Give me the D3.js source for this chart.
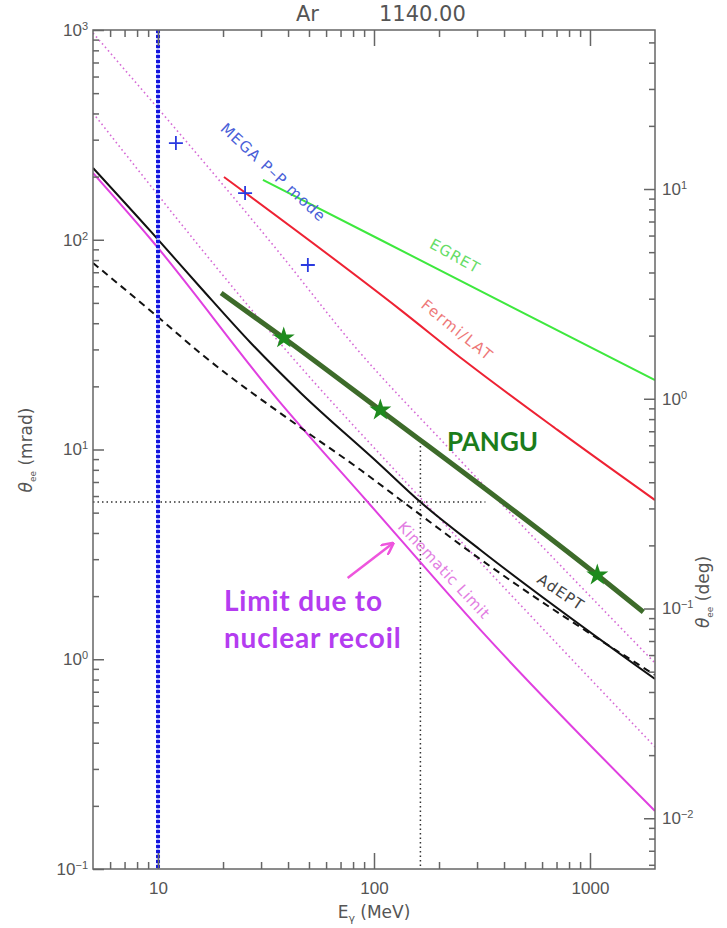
<!DOCTYPE html>
<html>
<head>
<meta charset="utf-8">
<script src="https://cdn.jsdelivr.net/npm/d3@7"></script>
<style>
  body { margin: 0; background: #fff; }
  svg { display: block; font-family: "DejaVu Sans", sans-serif; }
</style>
</head>
<body>
<svg id="chart" width="727" height="928"></svg>
<script>
// photon energy (MeV) vs angle (mrad)
var kinE = [5, 9.3, 36, 93.5, 311, 2000];
var kinTheta = [208, 100, 17.2, 5.62, 1.38, 0.189];

var adeptE = [5, 9.3, 15.8, 26.9, 45.8, 107, 164, 311, 2000];
var adeptTheta = [220, 109, 58.9, 32.2, 18.6, 8.44, 5.62, 3.32, 0.805];

var adeptDashE = [5, 10, 16.3, 45.8, 86.8, 153, 301, 2000];
var adeptDashTheta = [77.5, 42.8, 27.9, 12.7, 7.98, 5.15, 3.07, 0.841];

var egretE = [30.6, 107, 2000];
var egretTheta = [193, 100, 21.4];

var fermiE = [20.2, 133, 260, 707, 2000];
var fermiTheta = [199, 46.2, 26.7, 12.4, 5.74];

var panguE = [19.6, 38.2, 107, 1081, 1766];
var panguTheta = [55.7, 34.0, 15.4, 2.52, 1.68];
var starE = [38.2, 107, 1081];
var starTheta = [34.0, 15.4, 2.52];

var megaE = [12.1, 25.3, 49.4];
var megaTheta = [289, 167, 75.8];

var dotAE = [5, 35.9, 84.1, 226, 2000];
var dotATheta = [968, 88.4, 29.8, 9.95, 0.959];
var dotBE = [5, 45.8, 143, 2000];
var dotBTheta = [402, 24.7, 6.85, 0.382];

// crosshair at 164 MeV / 5.62 mrad
var cutE = 164, cutTheta = 5.62, cutEmax = 328, cutThetaTop = 10.4;
var vlineE = 10;

var xTicks = [10, 100, 1000];
var xTickLabels = ["10", "100", "1000"];
var yTicks = [0.1, 1, 10, 100, 1000];
var yExp = ["\u22121", "0", "1", "2", "3"];
var degTicks = [0.01, 0.1, 1, 10];
var degExp = ["\u22122", "\u22121", "0", "1"];
var mradPerDeg = 17.4533;

var L = 93, R = 655, T = 30, B = 869;

var svg = d3.select("#chart");
svg.append("rect").attr("width", 727).attr("height", 928).attr("fill", "#fff");

var x = d3.scaleLog().domain([5, 2000]).range([L, R]);
var y = d3.scaleLog().domain([0.1, 1000]).range([B, T]);
var yDeg = d3.scaleLog().domain([0.1 / mradPerDeg, 1000 / mradPerDeg]).range([B, T]);

function minors(scale) {
  var d = scale.domain(), out = [];
  for (var k = -3; k <= 3; k++) {
    for (var m = 2; m <= 9; m++) {
      var v = m * Math.pow(10, k);
      if (v > d[0] * 1.0001 && v < d[1] * 0.9999) out.push(v);
    }
  }
  return out;
}

function zip(a, b) { return a.map(function (v, i) { return [v, b[i]]; }); }

svg.append("clipPath").attr("id", "plot")
  .append("rect").attr("x", L).attr("y", T).attr("width", R - L).attr("height", B - T);

var g = svg.append("g").attr("clip-path", "url(#plot)");
var line = d3.line().x(function (d) { return x(d[0]); }).y(function (d) { return y(d[1]); })
  .curve(d3.curveMonotoneX);

// magenta dotted reference lines
[zip(dotAE, dotATheta), zip(dotBE, dotBTheta)].forEach(function (pts) {
  g.append("path").attr("d", line(pts)).attr("fill", "none")
    .attr("stroke", "#d66ad6").attr("stroke-width", 1.6).attr("stroke-dasharray", "1.6,3");
});

// dotted crosshair
g.append("line").attr("x1", L).attr("x2", x(cutEmax)).attr("y1", y(cutTheta)).attr("y2", y(cutTheta))
  .attr("stroke", "#333").attr("stroke-width", 1.5).attr("stroke-dasharray", "1.5,3");
g.append("line").attr("x1", x(cutE)).attr("x2", x(cutE)).attr("y1", y(cutThetaTop)).attr("y2", B)
  .attr("stroke", "#333").attr("stroke-width", 1.5).attr("stroke-dasharray", "1.5,3");

// solid curves
function curve(E, th, color, w, dash) {
  var p = g.append("path").attr("d", line(zip(E, th))).attr("fill", "none")
    .attr("stroke", color).attr("stroke-width", w);
  if (dash) p.attr("stroke-dasharray", dash);
}
curve(kinE, kinTheta, "#e040e0", 2);
curve(adeptDashE, adeptDashTheta, "#111", 2, "7,5");
curve(adeptE, adeptTheta, "#111", 2);
curve(egretE, egretTheta, "#3ee83e", 2);
curve(fermiE, fermiTheta, "#ee2233", 2);
curve(panguE, panguTheta, "#3d6b2a", 5);

// thick blue dotted line at 10 MeV
g.append("line").attr("x1", x(vlineE)).attr("x2", x(vlineE)).attr("y1", T).attr("y2", B)
  .attr("stroke", "#a8b0ff").attr("stroke-width", 3);
g.append("line").attr("x1", x(vlineE)).attr("x2", x(vlineE)).attr("y1", T).attr("y2", B)
  .attr("stroke", "#1414dd").attr("stroke-width", 4).attr("stroke-dasharray", "3,2");

// MEGA points
g.selectAll(".mega").data(zip(megaE, megaTheta)).enter().append("path")
  .attr("transform", function (d) { return "translate(" + x(d[0]) + "," + y(d[1]) + ")"; })
  .attr("d", "M-7,0H7M0,-7V7").attr("stroke", "#2a3ae0").attr("stroke-width", 1.8);

// PANGU stars
g.selectAll(".star").data(zip(starE, starTheta)).enter().append("path")
  .attr("transform", function (d) { return "translate(" + x(d[0]) + "," + y(d[1]) + ")"; })
  .attr("d", d3.symbol(d3.symbolStar).size(150)).attr("fill", "#1e8a1e");

// axes
var axisColor = "#666";
function styleAxis(sel) {
  sel.select(".domain").remove();
  sel.selectAll("line").attr("stroke", axisColor).attr("stroke-width", 1.5);
  sel.selectAll("text").attr("fill", "#555").attr("font-size", 17);
}
function supLabels(sel, exps) {
  sel.selectAll(".tick text").each(function (d, i) {
    var t = d3.select(this).text("");
    t.append("tspan").text("10");
    t.append("tspan").attr("dy", "-0.55em").attr("font-size", 11).text(exps[i]);
  });
}

svg.append("g").attr("transform", "translate(0," + B + ")")
  .call(d3.axisBottom(x).tickValues(xTicks).tickSize(-16).tickSizeOuter(0).tickPadding(13)
    .tickFormat(function (d, i) { return xTickLabels[i]; }))
  .call(styleAxis);
svg.append("g").attr("transform", "translate(0," + B + ")")
  .call(d3.axisBottom(x).tickValues(minors(x)).tickSize(-7).tickSizeOuter(0).tickFormat(""))
  .call(styleAxis);
svg.append("g").attr("transform", "translate(0," + T + ")")
  .call(d3.axisTop(x).tickValues(xTicks).tickSize(-16).tickSizeOuter(0).tickFormat(""))
  .call(styleAxis);
svg.append("g").attr("transform", "translate(0," + T + ")")
  .call(d3.axisTop(x).tickValues(minors(x)).tickSize(-7).tickSizeOuter(0).tickFormat(""))
  .call(styleAxis);

svg.append("g").attr("transform", "translate(" + L + ",0)")
  .call(d3.axisLeft(y).tickValues(yTicks).tickSize(-11).tickSizeOuter(0).tickPadding(5))
  .call(styleAxis).call(supLabels, yExp);
svg.append("g").attr("transform", "translate(" + L + ",0)")
  .call(d3.axisLeft(y).tickValues(minors(y)).tickSize(-6).tickSizeOuter(0).tickFormat(""))
  .call(styleAxis);

svg.append("g").attr("transform", "translate(" + R + ",0)")
  .call(d3.axisRight(yDeg).tickValues(degTicks).tickSize(-11).tickSizeOuter(0).tickPadding(7))
  .call(styleAxis).call(supLabels, degExp);
svg.append("g").attr("transform", "translate(" + R + ",0)")
  .call(d3.axisRight(yDeg).tickValues(minors(yDeg)).tickSize(-6).tickSizeOuter(0).tickFormat(""))
  .call(styleAxis);

svg.append("rect").attr("x", L).attr("y", T).attr("width", R - L).attr("height", B - T)
  .attr("fill", "none").attr("stroke", axisColor).attr("stroke-width", 1.5);

// titles
svg.append("text").attr("x", 296).attr("y", 21).attr("font-size", 21).attr("fill", "#555").text("Ar");
svg.append("text").attr("x", 379).attr("y", 21).attr("font-size", 21).attr("fill", "#555").text("1140.00");

var xt = svg.append("text").attr("x", (L + R) / 2).attr("y", 918).attr("text-anchor", "middle")
  .attr("font-size", 17).attr("fill", "#555");
xt.append("tspan").text("E");
xt.append("tspan").attr("dy", 4).attr("font-size", 11).text("\u03b3");
xt.append("tspan").attr("dy", -4).text(" (MeV)");

function axisTitle(px, py, unit) {
  var t = svg.append("text").attr("transform", "translate(" + px + "," + py + ") rotate(-90)")
    .attr("text-anchor", "middle").attr("font-size", 17).attr("fill", "#555");
  t.append("tspan").attr("font-style", "italic").text("\u03b8");
  t.append("tspan").attr("dy", 4).attr("font-size", 9).text("ee");
  t.append("tspan").attr("dy", -4).text(" (" + unit + ")");
}
axisTitle(32, 450, "mrad");
axisTitle(709, 592, "deg");

// curve labels, anchored in data space
function tag(E, th, angle, txt, color, size, len) {
  svg.append("text").attr("transform", "translate(" + x(E) + "," + y(th) + ") rotate(" + angle + ")")
    .attr("text-anchor", "middle").attr("dominant-baseline", "central")
    .attr("font-size", size).attr("fill", color)
    .attr("textLength", len).attr("lengthAdjust", "spacing").text(txt);
}
tag(34.0, 210, 42.7, "MEGA P\u2013P mode", "#4a5fd8", 15, 136);
tag(236, 83.7, 29, "EGRET", "#66dd66", 15, 54);
tag(241, 37.2, 39, "Fermi/LAT", "#ee7777", 15, 86);
tag(729, 2.09, 33.7, "AdEPT", "#444", 15, 52);
tag(210, 2.66, 47, "Kinematic Limit", "#e27de2", 15, 126);

svg.append("text").attr("x", x(354)).attr("y", y(9.84)).attr("text-anchor", "middle")
  .attr("font-family", "Lato, sans-serif").attr("font-weight", "bold").attr("font-size", 26)
  .attr("fill", "#1b7d1b").text("PANGU");

function note(E, th, txt) {
  svg.append("text").attr("x", x(E)).attr("y", y(th))
    .attr("font-family", "Lato, sans-serif").attr("font-weight", "bold").attr("font-size", 28)
    .attr("letter-spacing", 0.8).attr("fill", "#b43cf0").text(txt);
}
note(20.2, 1.70, "Limit due to");
note(20.2, 1.13, "nuclear recoil");

svg.append("defs").append("marker").attr("id", "arrow").attr("viewBox", "0 0 10 10")
  .attr("refX", 8).attr("refY", 5).attr("markerWidth", 5).attr("markerHeight", 5)
  .attr("orient", "auto").append("path").attr("d", "M0,0L10,5L0,10").attr("fill", "none")
  .attr("stroke", "#ee55dd").attr("stroke-width", 2);
svg.append("line").attr("x1", x(75.5)).attr("y1", y(2.44)).attr("x2", x(121)).attr("y2", y(3.54))
  .attr("stroke", "#ee55dd").attr("stroke-width", 2.5).attr("marker-end", "url(#arrow)");
</script>
</body>
</html>
